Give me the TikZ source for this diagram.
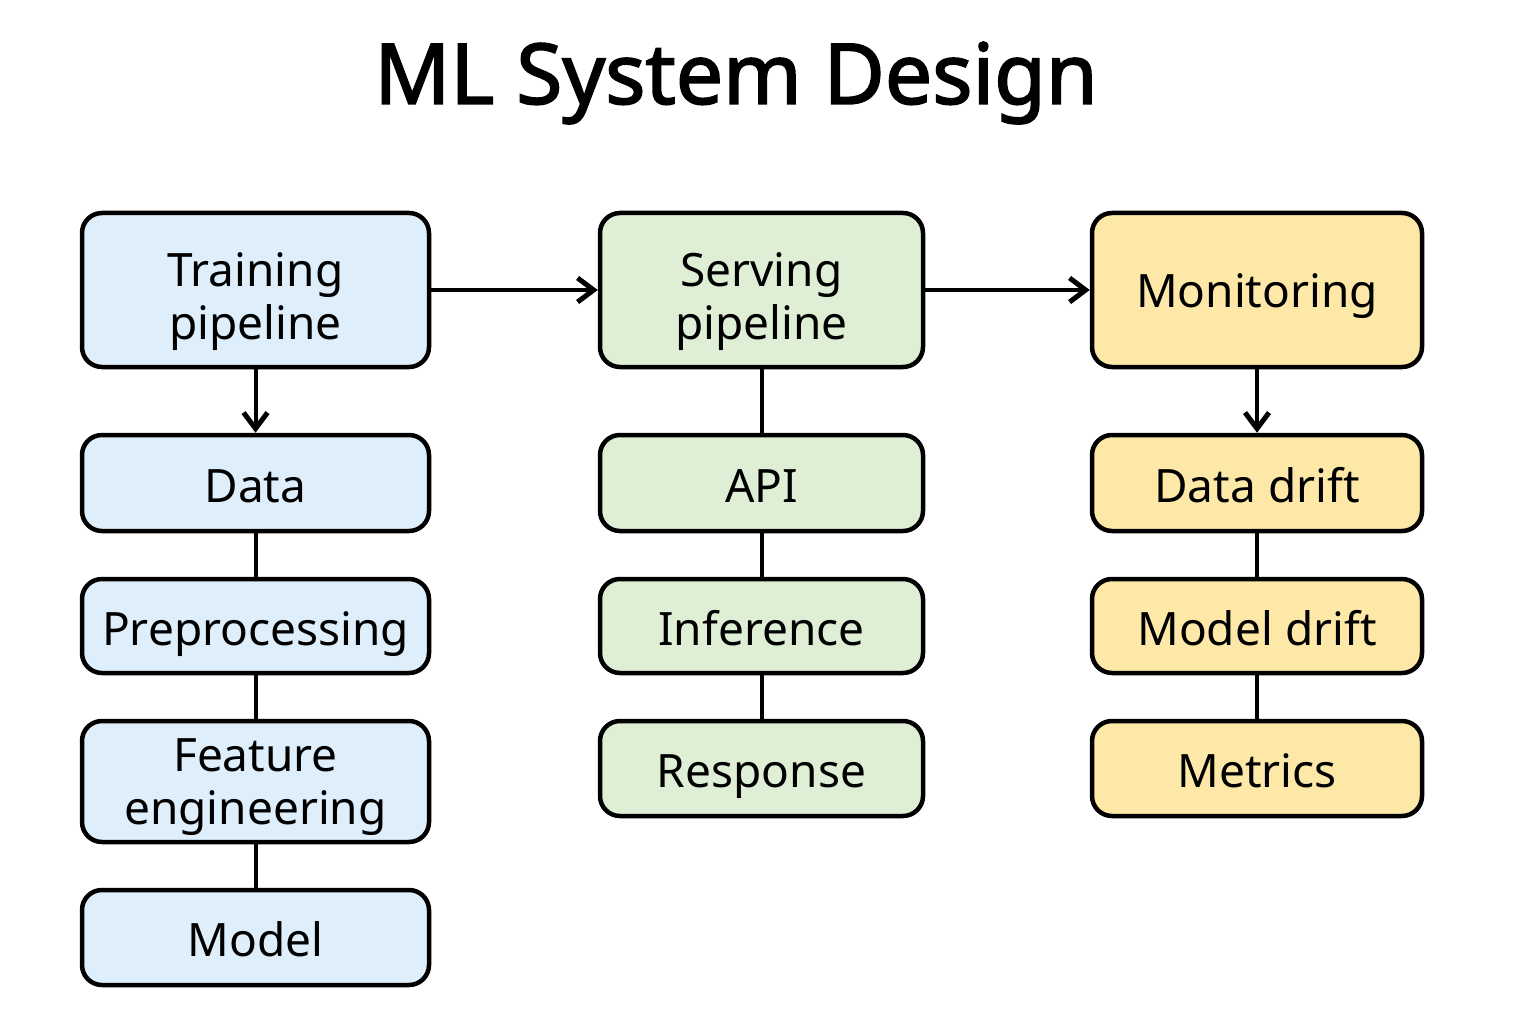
\documentclass[tikz,border=0pt]{standalone}
\usepackage{fontspec}
\setmainfont{Noto Sans}
\newfontfamily\titlefont[FakeBold=2]{Noto Sans}
\usetikzlibrary{arrows.meta}
\definecolor{cblue}{HTML}{DEEEFB}
\definecolor{cgreen}{HTML}{DFEFD6}
\definecolor{cyellow}{HTML}{FDE8A8}
\tikzset{
  box/.style={draw=black, line width=4.5pt, rounded corners=20pt, align=center,
    font=\fontsize{46}{53}\selectfont, inner sep=0pt},
  one/.style={text height=38pt, text depth=0pt},
  two/.style={text height=99pt, text depth=0pt},
  col1/.style={box, fill=cblue, minimum width=347pt},
  col2/.style={box, fill=cgreen, minimum width=323pt},
  col3/.style={box, fill=cyellow, minimum width=330pt},
  conn/.style={line width=4pt},
  arr/.style={line width=4pt, -{Straight Barb[length=16pt,width=24pt,line width=5pt]}},
}
\begin{document}
\begin{tikzpicture}[x=1pt,y=-1pt]
\useasboundingbox[fill=white] (0,0) rectangle (1536,1024);
\node[font=\fontsize{84}{90}\titlefont] (title) at (736,83) {ML System Design};
% column 1
\node[col1, two, minimum height=154pt] (train) at (255.5,290) {Training\\pipeline};
\node[col1, one, minimum height=96pt] (data) at (255.5,483) {Data};
\node[col1, one, minimum height=94pt] (prep) at (255.5,626) {Preprocessing};
\node[col1, two, text height=86pt, minimum height=121pt] (feat) at (255.5,781.5) {Feature\\engineering};
\node[col1, one, minimum height=95pt] (model) at (255.5,937.5) {Model};
% column 2
\node[col2, two, minimum height=154pt] (serve) at (761.5,290) {Serving\\pipeline};
\node[col2, one, minimum height=96pt] (api) at (761.5,483) {API};
\node[col2, one, minimum height=94pt] (inf) at (761.5,626) {Inference};
\node[col2, one, minimum height=95pt] (resp) at (761.5,768.5) {Response};
% column 3
\node[col3, one, text height=34pt, minimum height=154pt] (mon) at (1257,290) {Monitoring};
\node[col3, one, minimum height=96pt] (ddrift) at (1257,483) {Data drift};
\node[col3, one, minimum height=94pt] (mdrift) at (1257,626) {Model drift};
\node[col3, one, minimum height=95pt] (metr) at (1257,768.5) {Metrics};
% connectors
\draw[arr] (train.east) -- (serve.west);
\draw[arr] (serve.east) -- (mon.west);
\draw[arr] (train.south) -- (data.north);
\draw[conn] (data.south) -- (prep.north);
\draw[conn] (prep.south) -- (feat.north);
\draw[conn] (feat.south) -- (model.north);
\draw[conn] (serve.south) -- (api.north);
\draw[conn] (api.south) -- (inf.north);
\draw[conn] (inf.south) -- (resp.north);
\draw[arr] (mon.south) -- (ddrift.north);
\draw[conn] (ddrift.south) -- (mdrift.north);
\draw[conn] (mdrift.south) -- (metr.north);
\end{tikzpicture}
\end{document}
